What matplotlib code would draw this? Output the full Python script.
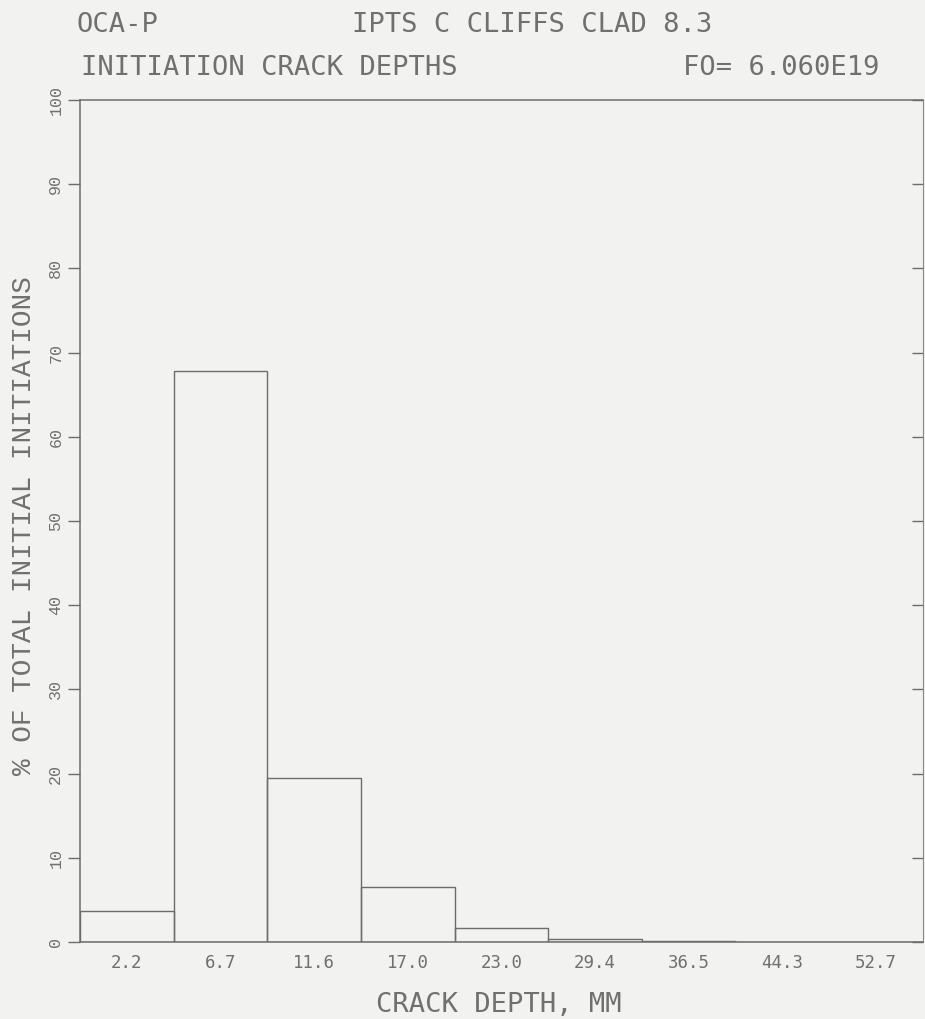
import numpy as np
import matplotlib.pyplot as plt

# ---------- datos ----------
etiquetas = ['2.2', '6.7', '11.6', '17.0', '23.0', '29.4', '36.5', '44.3', '52.7']
porcentaje = [3.7, 67.8, 19.5, 6.5, 1.7, 0.3, 0.1, 0.0, 0.0]
yticks = [0, 10, 20, 30, 40, 50, 60, 70, 80, 90, 100]

color_tinta = '#707070'
color_linea = '#6c6c6c'
fondo = '#f2f2f0'
fuente = 'DejaVu Sans Mono'
fuente_rot = 'Liberation Mono'

fig = plt.figure(figsize=(9.25, 10.19), dpi=100, facecolor=fondo)
ax = fig.add_axes([0.0865, 0.0756, 0.911, 0.8263], facecolor=fondo)

x = np.arange(len(porcentaje))
ax.bar(x, porcentaje, width=1.0, align='edge', facecolor='none',
       edgecolor=color_linea, linewidth=1.0)

ax.set_xlim(0, len(porcentaje))
ax.set_ylim(0, 100)

for s in ax.spines.values():
    s.set_color(color_linea)
    s.set_linewidth(1.1)
ax.spines['right'].set_linewidth(0.8)
ax.spines['right'].set_color('#8a8a8a')

ax.set_xticks(x + 0.5)
ax.set_xticklabels(etiquetas, fontsize=12.5, family=fuente, color=color_tinta)
ax.tick_params(axis='x', length=0, pad=9)

ax.set_yticks(yticks)
ax.set_yticklabels([str(v) for v in yticks], fontsize=12, family=fuente_rot,
                   color=color_tinta, rotation=90, va='center')
ax.tick_params(axis='y', direction='out', length=9, width=1.0,
               color=color_linea, right=True, pad=3)
for t in ax.yaxis.get_major_ticks():
    t.tick2line.set_marker(0)  # tick hacia dentro en el borde derecho
    t.tick2line.set_markersize(8)

# ---------- etiquetas de ejes ----------
fig.text(0.539, 0.0069, 'CRACK DEPTH, MM', fontsize=19.5, family=fuente,
         color=color_tinta, ha='center', va='baseline')
fig.text(0.026, 0.4838, '% OF TOTAL INITIAL INITIATIONS', fontsize=20,
         family=fuente_rot, color=color_tinta, rotation=90,
         ha='center', va='center')

# ---------- titulos ----------
fig.text(0.083, 0.9686, 'OCA-P', fontsize=19.5, family=fuente,
         color=color_tinta, va='baseline')
fig.text(0.381, 0.9686, 'IPTS C CLIFFS CLAD 8.3', fontsize=19.5, family=fuente,
         color=color_tinta, va='baseline')
fig.text(0.088, 0.9264, 'INITIATION CRACK DEPTHS', fontsize=19.5, family=fuente,
         color=color_tinta, va='baseline')
fig.text(0.738, 0.9264, 'FO= 6.060E19', fontsize=19.5, family=fuente,
         color=color_tinta, va='baseline')

fig.savefig('out.png', dpi=100, facecolor=fondo)
